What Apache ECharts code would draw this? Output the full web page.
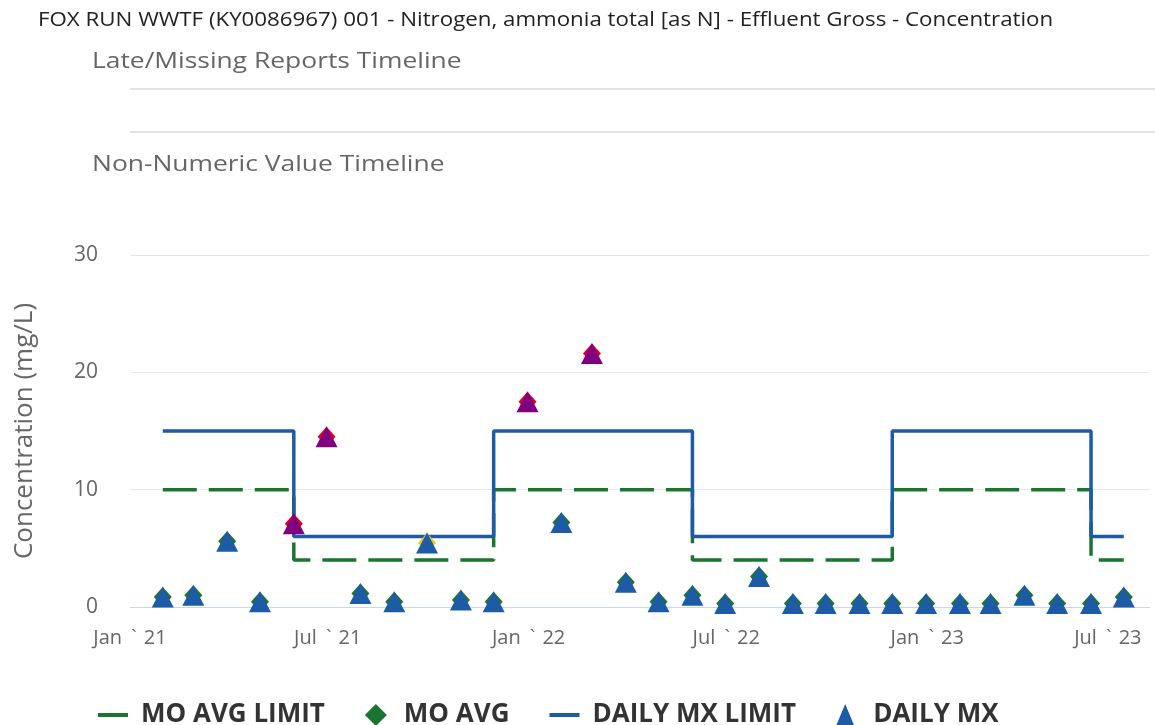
<!DOCTYPE html>
<html>
<head>
<meta charset="utf-8">
<script src="https://cdn.jsdelivr.net/npm/echarts@6/dist/echarts.min.js"></script>
<style>
  html, body { margin: 0; padding: 0; background: #fff; }
  #chart { width: 1155px; height: 725px; }
</style>
</head>
<body>
<div id="chart"></div>
<script>
// monitoring period end dates
var periods = ['2021-01-31','2021-02-28','2021-03-31','2021-04-30','2021-05-31','2021-06-30',
    '2021-07-31','2021-08-31','2021-09-30','2021-10-31','2021-11-30','2021-12-31',
    '2022-01-31','2022-02-28','2022-03-31','2022-04-30','2022-05-31','2022-06-30',
    '2022-07-31','2022-08-31','2022-09-30','2022-10-31','2022-11-30','2022-12-31',
    '2023-01-31','2023-02-28','2023-03-31','2023-04-30','2023-05-31','2023-06-30'];
var moAvgLimit = [10,10,10,10,4,4,4,4,4,4,10,10,10,10,10,10,4,4,4,4,4,4,10,10,10,10,10,10,4,4];
var moAvg = [0.85,1.0,5.6,0.45,7.1,14.5,1.15,0.45,5.45,0.6,0.45,17.5,7.2,21.6,2.1,0.45,1.0,0.3,2.6,0.3,0.3,0.3,0.3,0.3,0.3,0.3,1.0,0.3,0.3,0.85];
var dailyMxLimit = [15,15,15,15,6,6,6,6,6,6,15,15,15,15,15,15,6,6,6,6,6,6,15,15,15,15,15,15,6,6];
var dailyMx = [0.85,1.0,5.6,0.45,7.1,14.5,1.15,0.45,5.45,0.6,0.45,17.5,7.2,21.6,2.1,0.45,1.0,0.3,2.6,0.3,0.3,0.3,0.3,0.3,0.3,0.3,1.0,0.3,0.3,0.85];
var tickDates = ['2021-01-01','2021-07-01','2022-01-01','2022-07-01','2023-01-01','2023-07-01'];
var monthNames = ['Jan','Feb','Mar','Apr','May','Jun','Jul','Aug','Sep','Oct','Nov','Dec'];

function toTime(s) {
    var p = s.split('-');
    return new Date(+p[0], +p[1] - 1, +p[2]).getTime();
}

var green = '#1c7431', blue = '#1d5ba6', purple = '#800080', red = '#e3001b', yellow = '#f2c31b';
var font = '"Open Sans", sans-serif';

var moAvgLimitData = [], moAvgData = [], dailyLimitData = [], dailyMxData = [];
for (var i = 0; i < periods.length; i++) {
    var t = toTime(periods[i]);
    var over = dailyMx[i] > dailyMxLimit[i];
    var avgColor = over ? red : (moAvg[i] > moAvgLimit[i] ? yellow : green);
    moAvgLimitData.push([t, moAvgLimit[i]]);
    dailyLimitData.push([t, dailyMxLimit[i]]);
    moAvgData.push({value: [t, moAvg[i]], itemStyle: {color: avgColor}});
    dailyMxData.push({value: [t, dailyMx[i]], itemStyle: {color: over ? purple : blue}});
}
var tickTimes = tickDates.map(toTime);

var chart = echarts.init(document.getElementById('chart'));
chart.setOption({
    animation: false,
    textStyle: {fontFamily: font},
    graphic: [
        {type: 'text', x: 38, y: 20, scaleX: 1.115, style: {text: 'FOX RUN WWTF (KY0086967) 001 - Nitrogen, ammonia total [as N] - Effluent Gross - Concentration',
            font: '20px "Open Sans"', fill: '#222', verticalAlign: 'middle'}},
        {type: 'text', x: 92, y: 62, scaleX: 1.2, style: {text: 'Late/Missing Reports Timeline',
            font: '22px "Open Sans"', fill: '#666', verticalAlign: 'middle'}},
        {type: 'line', shape: {x1: 130, y1: 89, x2: 1155, y2: 89}, style: {stroke: '#e3e3e3', lineWidth: 2}},
        {type: 'line', shape: {x1: 130, y1: 132, x2: 1155, y2: 132}, style: {stroke: '#e3e3e3', lineWidth: 2}},
        {type: 'text', x: 92, y: 165, scaleX: 1.2, style: {text: 'Non-Numeric Value Timeline',
            font: '22px "Open Sans"', fill: '#666', verticalAlign: 'middle'}}
    ],
    legend: {
        left: 93,
        top: 697,
        itemWidth: 30,
        itemHeight: 22,
        itemGap: 40,
        textStyle: {fontFamily: font, fontSize: 26, fontWeight: 'bold', color: '#333', padding: [0, 0, 0, 8]},
        data: [
            {name: 'MO AVG LIMIT', icon: 'path://M0,0H30V4H0Z'},
            {name: 'MO AVG', icon: 'path://M10,0L20,10L10,20L0,10Z'},
            {name: 'DAILY MX LIMIT', icon: 'path://M0,0H30V4H0Z'},
            {name: 'DAILY MX', icon: 'path://M10,0L20,24L0,24Z'}
        ]
    },
    grid: {left: 130, right: 5, top: 255, bottom: 118, containLabel: false, outerBoundsMode: 'none'},
    xAxis: {
        type: 'value',
        min: toTime('2021-01-01'),
        max: toTime('2023-07-24'),
        axisLine: {lineStyle: {color: '#ccd6eb', width: 1}},
        axisTick: {show: false},
        splitLine: {show: false},
        axisLabel: {
            customValues: tickTimes,
            fontFamily: font,
            fontSize: 20,
            color: '#666',
            margin: 21,
            formatter: function (v) {
                var d = new Date(v);
                var s = '{m|' + monthNames[d.getMonth()] + ' }{g|`}{m|' + String(d.getFullYear()).slice(2) + '}';
                return v === tickTimes[tickTimes.length - 1] ? s + '{pad|}' : s;
            },
            rich: {
                m: {fontFamily: font, fontSize: 20, color: '#666'},
                g: {fontFamily: font, fontSize: 20, color: '#666', padding: [0, 7, 0, 4]},
                pad: {width: 34}
            }
        }
    },
    yAxis: {
        type: 'value',
        min: 0,
        max: 30,
        interval: 10,
        name: 'Concentration (mg/L)',
        nameLocation: 'middle',
        nameGap: 92,
        nameTextStyle: {fontFamily: font, fontSize: 26, color: '#666'},
        axisLine: {show: false},
        axisTick: {show: false},
        axisLabel: {fontFamily: font, fontSize: 21, color: '#666', margin: 32},
        splitLine: {lineStyle: {color: '#e6e6e6', width: 1}}
    },
    series: [
        {
            name: 'MO AVG LIMIT', type: 'line', step: 'end', symbol: 'none', z: 2,
            itemStyle: {color: green},
            lineStyle: {color: green, width: 3.5, type: [34, 12]},
            data: moAvgLimitData
        },
        {
            name: 'MO AVG', type: 'scatter', symbol: 'diamond', symbolSize: [18, 20], z: 3,
            itemStyle: {color: green, opacity: 1},
            data: moAvgData
        },
        {
            name: 'DAILY MX LIMIT', type: 'line', step: 'end', symbol: 'none', z: 2,
            itemStyle: {color: blue},
            lineStyle: {color: blue, width: 3.5},
            data: dailyLimitData
        },
        {
            name: 'DAILY MX', type: 'scatter', symbol: 'triangle', symbolSize: [22, 21], z: 4,
            itemStyle: {color: blue, opacity: 1},
            data: dailyMxData
        }
    ]
});
</script>
</body>
</html>
